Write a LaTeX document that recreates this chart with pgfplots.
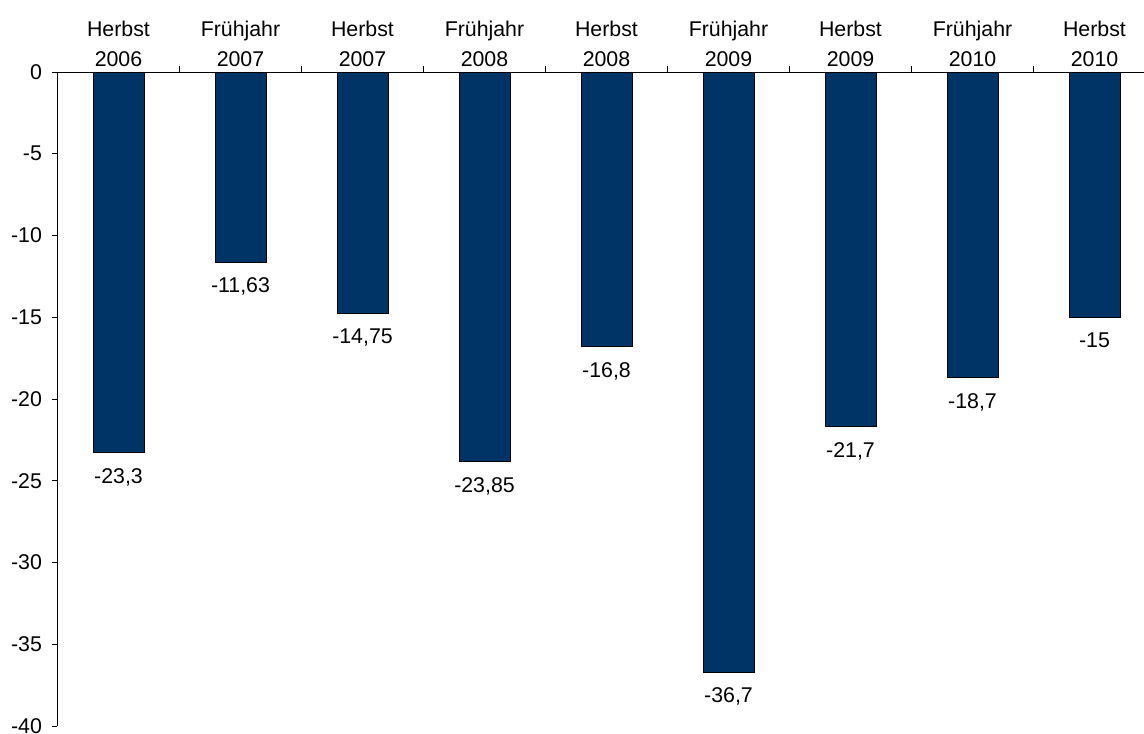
\documentclass[border=0pt]{standalone}
\usepackage{pgfplots}
\usepackage{pgfplotstable}
\usepackage{fontspec}
\setmainfont{Liberation Sans}
\pgfplotsset{compat=1.18}
\definecolor{barblue}{RGB}{0,51,102}

\pgfplotstableread{
x y label
0 -23.3 -23,3
1 -11.63 -11,63
2 -14.75 -14,75
3 -23.85 -23,85
4 -16.8 -16,8
5 -36.7 -36,7
6 -21.7 -21,7
7 -18.7 -18,7
8 -15 -15
}\umfrage

\begin{document}
\begin{tikzpicture}
\begin{axis}[
  scale only axis, width=823.5pt, height=490.5pt,
  xmin=-0.5, xmax=8.5, ymin=-40, ymax=0,
  axis x line=top, axis y line=left,
  axis line style={-, black, line width=0.75pt},
  clip=false,
  tick align=inside, major tick length=4.5pt,
  tick style={black, line width=0.75pt},
  ytick={0,-5,...,-40},
  yticklabels={0,-5,-10,-15,-20,-25,-30,-35,-40},
  ytick style={xshift=-4.5pt},
  yticklabel style={font=\fontsize{16}{19}\selectfont, inner sep=0pt, xshift=-11.5pt},
  xtick={0.5,1.5,...,7.5}, xticklabels={},
  extra x ticks={0,...,8},
  extra x tick labels={{Herbst\\2006},{Frühjahr\\2007},{Herbst\\2007},{Frühjahr\\2008},{Herbst\\2008},{Frühjahr\\2009},{Herbst\\2009},{Frühjahr\\2010},{Herbst\\2010}},
  extra x tick style={tick style={draw=none}},
  xticklabel style={font=\fontsize{16}{22.6}\selectfont, align=center, inner sep=0pt, yshift=-0.5pt},
  ybar, bar width=38.25pt,
  nodes near coords, point meta=explicit symbolic,
  every node near coord/.style={anchor=north, inner sep=0pt, yshift=-11.25pt, font=\fontsize{16}{19}\selectfont, black},
]
\addplot[fill=barblue, draw=black, line width=0.75pt] table[x=x, y=y, meta=label]{\umfrage};
\end{axis}
\pgfresetboundingbox
\useasboundingbox (-43.125pt,-5.25pt) rectangle (814.875pt,544.5pt);
\end{tikzpicture}
\end{document}
